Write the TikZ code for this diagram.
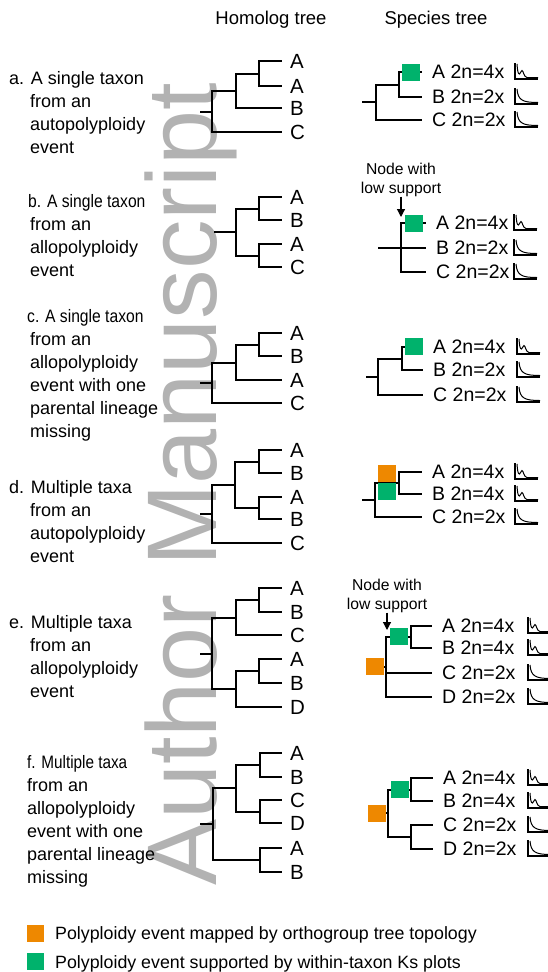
\documentclass[tikz,border=0pt]{standalone}
\usepackage{fontspec}
\setmainfont{Liberation Sans}
\usetikzlibrary{arrows.meta}
\definecolor{evorange}{RGB}{238,136,0}
\definecolor{evgreen}{RGB}{0,178,108}
\definecolor{wmgray}{RGB}{178,178,178}
\newcommand{\descr}[6]{%
  \node[desc] (#1-0) at (#2,#4) {#5};
  \foreach \ln [count=\i] in {#6} {\node[desc] (#1-\i) at (#3,#4+23*\i) {\ln};}
}
\begin{document}
\begin{tikzpicture}[x=1pt,y=-1pt,
  br/.style={line width=2pt},
  hlab/.style={anchor=west, inner xsep=8pt, inner ysep=0pt, font=\fontsize{20.5}{24}\selectfont},
  slab/.style={anchor=west, inner xsep=10pt, inner ysep=0pt, font=\fontsize{19.5}{23}\selectfont},
  desc/.style={anchor=base west, inner sep=0pt, font=\fontsize{18}{23}\selectfont},
  hdr/.style={inner sep=0pt, font=\fontsize{18.5}{22}\selectfont},
  note/.style={anchor=south, align=center, inner sep=0pt, font=\fontsize{15.7}{19}\selectfont},
  arr/.style={line width=1.2pt, -{Triangle[width=8pt,length=8pt]}},
  evsq/.style={minimum width=18pt, minimum height=17pt, inner sep=0pt, draw=none},
  lgsq/.style={minimum width=17pt, minimum height=17pt, inner sep=0pt, draw=none},
  lgt/.style={anchor=base west, inner sep=0pt, font=\fontsize{17.8}{22}\selectfont},
  wm/.style={anchor=base west, rotate=90, inner sep=0pt, text=wmgray, font=\fontsize{99}{99}\selectfont},
  ksax/.style={line width=1.2pt},
  kscv/.style={line width=1pt},
  ksfour/.pic={\draw[ksax] (0,-16) -- (0,0) -- (23,0);
    \draw[kscv] (2,-15) .. controls (2.5,-8) and (3,-5) .. (4.5,-5) .. controls (5.5,-5) and (5.8,-8.5) .. (7,-8.5) .. controls (8.5,-8.5) and (8.5,-2) .. (12,-1.5) -- (23,-1.5);},
  kstwo/.pic={\draw[ksax] (0,-16) -- (0,0) -- (23,0);
    \draw[kscv] (2,-15) .. controls (3,-4) and (7,-1.5) .. (23,-1.5);}
]
\useasboundingbox (0,0) rectangle (548,972);
\clip (0,0) rectangle (548,972);

% watermark
\node[wm] (wm) at (216,886) {Author Manuscript};

% headers
\node[hdr] (hh) at (271,20) {Homolog tree};
\node[hdr] (hs) at (436,20) {Species tree};

% descriptions
\descr{da}{9}{30}{84}{a. A single taxon}{from an,autopolyploidy,event}
\descr{db}{28}{30}{207}{\scalebox{0.87}[1]{b. A single taxon}}{from an,allopolyploidy,event}
\descr{dc}{27}{30}{322}{\scalebox{0.87}[1]{c. A single taxon}}{from an,allopolyploidy,event with one,parental lineage,missing}
\descr{dd}{9}{30}{493}{d. Multiple taxa}{from an,autopolyploidy,event}
\descr{de}{9}{30}{628}{e. Multiple taxa}{from an,allopolyploidy,event}
\descr{df}{27}{27}{768}{\scalebox{0.85}[1]{f. Multiple taxa}}{from an,allopolyploidy,event with one,parental lineage,missing}

%%%%% Panel a
\node[hlab] (ha1) at (282,61) {A};
\node[hlab] (ha2) at (282,86) {A};
\node[hlab] (ha3) at (282,108) {B};
\node[hlab] (ha4) at (282,132) {C};
\coordinate (ha-n1) at (259,74);
\coordinate (ha-n2) at (236,91);
\coordinate (ha-r) at (212,112);
\coordinate (ha-s) at (200,112);
\draw[br] (ha-n1) |- (ha1.west) (ha-n1) |- (ha2.west) (ha-n2) |- (ha-n1) (ha-n2) |- (ha3.west)
  (ha-r) |- (ha-n2) (ha-r) |- (ha4.west) (ha-r) -- (ha-s);

\node[slab] (sa1) at (422,72) {A 2n=4x};
\node[slab] (sa2) at (422,97) {B 2n=2x};
\node[slab] (sa3) at (422,120) {C 2n=2x};
\coordinate (sa-n1) at (399,85);
\coordinate (sa-r) at (376,102);
\coordinate (sa-s) at (362,102);
\draw[br] (sa-n1) |- (sa1.west) (sa-n1) |- (sa2.west) (sa-r) |- (sa-n1) (sa-r) |- (sa3.west) (sa-r) -- (sa-s);
\node[evsq, fill=evgreen] (sa-g) at (411,72.5) {};
\pic (ka1) at (515,79) {ksfour};
\pic (ka2) at (515,104) {kstwo};
\pic (ka3) at (515,127) {kstwo};

%%%%% Panel b
\node[hlab] (hb1) at (282,197) {A};
\node[hlab] (hb2) at (282,220) {B};
\node[hlab] (hb3) at (282,244) {A};
\node[hlab] (hb4) at (282,267) {C};
\coordinate (hb-n1) at (259,209);
\coordinate (hb-n2) at (259,256);
\coordinate (hb-r) at (236,232);
\coordinate (hb-s) at (214,232);
\draw[br] (hb-n1) |- (hb1.west) (hb-n1) |- (hb2.west) (hb-n2) |- (hb3.west) (hb-n2) |- (hb4.west)
  (hb-r) |- (hb-n1) (hb-r) |- (hb-n2) (hb-r) -- (hb-s);

\node[note] (nb) at (401,196.5) {Node with\\low support};
\coordinate (nb-tip) at (401,217);
\draw[arr] (nb.south) -- (nb-tip);
\node[slab] (sb1) at (426,223) {A 2n=4x};
\node[slab] (sb2) at (426,248) {B 2n=2x};
\node[slab] (sb3) at (426,272) {C 2n=2x};
\coordinate (sb-p) at (401,248);
\coordinate (sb-s) at (378,248);
\draw[br] (sb-p) |- (sb1.west) (sb-s) -- (sb2.west) (sb-p) |- (sb3.west);
\node[evsq, fill=evgreen] (sb-g) at (414,223.5) {};
\pic (kb1) at (514,230) {ksfour};
\pic (kb2) at (514,255) {kstwo};
\pic (kb3) at (514,279) {kstwo};

%%%%% Panel c
\node[hlab] (hc1) at (282,333) {A};
\node[hlab] (hc2) at (282,356) {B};
\node[hlab] (hc3) at (282,380) {A};
\node[hlab] (hc4) at (282,403) {C};
\coordinate (hc-n1) at (259,345);
\coordinate (hc-n2) at (236,363);
\coordinate (hc-r) at (212,383);
\coordinate (hc-s) at (200,383);
\draw[br] (hc-n1) |- (hc1.west) (hc-n1) |- (hc2.west) (hc-n2) |- (hc-n1) (hc-n2) |- (hc3.west)
  (hc-r) |- (hc-n2) (hc-r) |- (hc4.west) (hc-r) -- (hc-s);

\node[slab] (sc1) at (423,347) {A 2n=4x};
\node[slab] (sc2) at (423,370) {B 2n=2x};
\node[slab] (sc3) at (423,395) {C 2n=2x};
\coordinate (sc-n1) at (402,359);
\coordinate (sc-r) at (378,377);
\coordinate (sc-s) at (366,377);
\draw[br] (sc-n1) |- (sc1.west) (sc-n1) |- (sc2.west) (sc-r) |- (sc-n1) (sc-r) |- (sc3.west) (sc-r) -- (sc-s);
\node[evsq, fill=evgreen] (sc-g) at (414,346.5) {};
\pic (kc1) at (517,354) {ksfour};
\pic (kc2) at (517,377) {kstwo};
\pic (kc3) at (517,402) {kstwo};

%%%%% Panel d
\node[hlab] (hd1) at (282,450) {A};
\node[hlab] (hd2) at (282,473) {B};
\node[hlab] (hd3) at (282,497) {A};
\node[hlab] (hd4) at (282,519) {B};
\node[hlab] (hd5) at (282,543) {C};
\coordinate (hd-n1) at (259,462);
\coordinate (hd-n2) at (259,508);
\coordinate (hd-n3) at (235,485);
\coordinate (hd-r) at (212,514);
\coordinate (hd-s) at (200,514);
\draw[br] (hd-n1) |- (hd1.west) (hd-n1) |- (hd2.west) (hd-n2) |- (hd3.west) (hd-n2) |- (hd4.west)
  (hd-n3) |- (hd-n1) (hd-n3) |- (hd-n2) (hd-r) |- (hd-n3) (hd-r) |- (hd5.west) (hd-r) -- (hd-s);

\node[slab] (sd1) at (422,472) {A 2n=4x};
\node[slab] (sd2) at (422,494) {B 2n=4x};
\node[slab] (sd3) at (422,517) {C 2n=2x};
\coordinate (sd-n1) at (399,483);
\coordinate (sd-r) at (375,500);
\coordinate (sd-s) at (362,500);
\draw[br] (sd-n1) |- (sd1.west) (sd-n1) |- (sd2.west) (sd-r) |- (sd-n1) (sd-r) |- (sd3.west) (sd-r) -- (sd-s);
\node[evsq, fill=evorange] (sd-o) at (387,473.5) {};
\node[evsq, fill=evgreen] (sd-g) at (387,491.5) {};
\pic (kd1) at (515,479) {ksfour};
\pic (kd2) at (515,501) {ksfour};
\pic (kd3) at (515,524) {kstwo};

%%%%% Panel e
\node[hlab] (he1) at (282,588) {A};
\node[hlab] (he2) at (282,612) {B};
\node[hlab] (he3) at (282,635) {C};
\node[hlab] (he4) at (282,659) {A};
\node[hlab] (he5) at (282,683) {B};
\node[hlab] (he6) at (282,707) {D};
\coordinate (he-n1) at (259,600);
\coordinate (he-n2) at (236,618);
\coordinate (he-n3) at (259,671);
\coordinate (he-n4) at (236,689);
\coordinate (he-r) at (212,654);
\coordinate (he-s) at (200,654);
\draw[br] (he-n1) |- (he1.west) (he-n1) |- (he2.west) (he-n2) |- (he-n1) (he-n2) |- (he3.west)
  (he-n3) |- (he4.west) (he-n3) |- (he5.west) (he-n4) |- (he-n3) (he-n4) |- (he6.west)
  (he-r) |- (he-n2) (he-r) |- (he-n4) (he-r) -- (he-s);

\node[note] (ne) at (387,612.5) {Node with\\low support};
\coordinate (ne-tip) at (387,630);
\draw[arr] (ne.south) -- (ne-tip);
\node[slab] (se1) at (432,626) {A 2n=4x};
\node[slab] (se2) at (432,648) {B 2n=4x};
\node[slab] (se3) at (432,673) {C 2n=2x};
\node[slab] (se4) at (432,697) {D 2n=2x};
\coordinate (se-n1) at (411,637);
\coordinate (se-p) at (386,667);
\coordinate (se-s) at (366,667);
\draw[br] (se-n1) |- (se1.west) (se-n1) |- (se2.west) (se-p) |- (se-n1) (se-p) |- (se3.west)
  (se-p) |- (se4.west) (se-p) -- (se-s);
\node[evsq, fill=evorange] (se-o) at (375,666.5) {};
\node[evsq, fill=evgreen] (se-g) at (399,636.5) {};
\pic (ke1) at (528,633) {ksfour};
\pic (ke2) at (528,655) {ksfour};
\pic (ke3) at (528,680) {kstwo};
\pic (ke4) at (528,704) {kstwo};

%%%%% Panel f
\node[hlab] (hf1) at (282,753) {A};
\node[hlab] (hf2) at (282,777) {B};
\node[hlab] (hf3) at (282,800) {C};
\node[hlab] (hf4) at (282,823) {D};
\node[hlab] (hf5) at (282,848) {A};
\node[hlab] (hf6) at (282,872) {B};
\coordinate (hf-n1) at (260,765);
\coordinate (hf-n2) at (260,812);
\coordinate (hf-n3) at (236,788);
\coordinate (hf-n4) at (260,860);
\coordinate (hf-r) at (213,824);
\coordinate (hf-s) at (200,824);
\draw[br] (hf-n1) |- (hf1.west) (hf-n1) |- (hf2.west) (hf-n2) |- (hf3.west) (hf-n2) |- (hf4.west)
  (hf-n3) |- (hf-n1) (hf-n3) |- (hf-n2) (hf-n4) |- (hf5.west) (hf-n4) |- (hf6.west)
  (hf-r) |- (hf-n3) (hf-r) |- (hf-n4) (hf-r) -- (hf-s);

\node[slab] (sf1) at (433,778) {A 2n=4x};
\node[slab] (sf2) at (433,801) {B 2n=4x};
\node[slab] (sf3) at (433,825) {C 2n=2x};
\node[slab] (sf4) at (433,849) {D 2n=2x};
\coordinate (sf-n1) at (411,790);
\coordinate (sf-n2) at (411,837);
\coordinate (sf-r) at (388,813);
\coordinate (sf-s) at (368,813);
\draw[br] (sf-n1) |- (sf1.west) (sf-n1) |- (sf2.west) (sf-n2) |- (sf3.west) (sf-n2) |- (sf4.west)
  (sf-r) |- (sf-n1) (sf-r) |- (sf-n2) (sf-r) -- (sf-s);
\node[evsq, fill=evorange] (sf-o) at (377,813.5) {};
\node[evsq, fill=evgreen] (sf-g) at (400,789.5) {};
\pic (kf1) at (528,785) {ksfour};
\pic (kf2) at (528,808) {ksfour};
\pic (kf3) at (528,832) {kstwo};
\pic (kf4) at (528,856) {kstwo};

%%%%% Legend
\node[lgsq, fill=evorange] (lo) at (35.2,933.3) {};
\node[lgt] (lot) at (55,939) {Polyploidy event mapped by orthogroup tree topology};
\node[lgsq, fill=evgreen] (lg) at (35.2,961.5) {};
\node[lgt] (lgt2) at (55,968) {Polyploidy event supported by within-taxon Ks plots};
\end{tikzpicture}
\end{document}
